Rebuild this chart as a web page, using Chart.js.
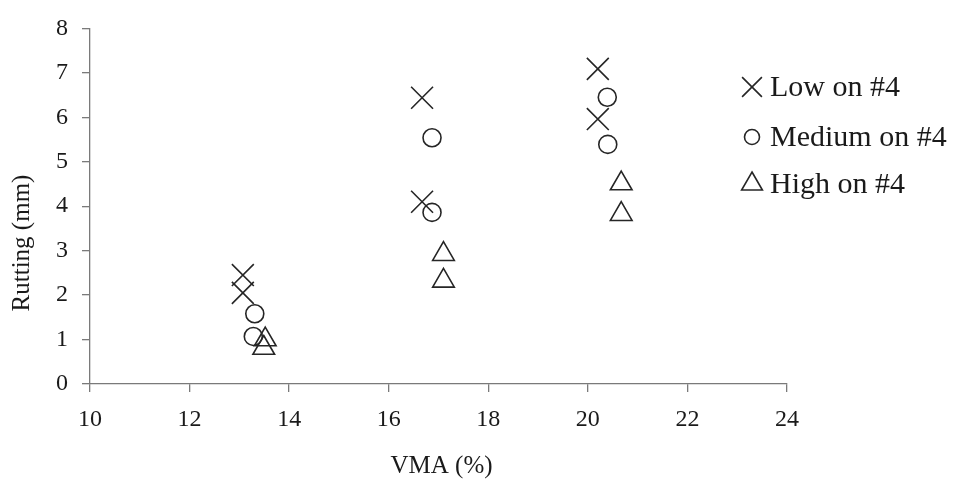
<!DOCTYPE html>
<html>
<head>
<meta charset="utf-8">
<script src="https://cdn.jsdelivr.net/npm/chart.js@4"></script>
<style>
  html, body { margin: 0; padding: 0; background: #ffffff; }
  #wrap { width: 954px; height: 483px; position: relative; }
</style>
</head>
<body>
<div id="wrap"><canvas id="c" width="954" height="483"></canvas></div>
<script>
// ---- data ----
const seriesNames = ["Low on #4", "Medium on #4", "High on #4"];
const lowX  = [13.07, 13.07, 16.67, 16.67, 20.20, 20.20];
const lowY  = [2.45, 2.05, 6.44, 4.10, 7.09, 5.96];
const medX  = [13.31, 13.28, 16.87, 16.87, 20.39, 20.40];
const medY  = [1.58, 1.07, 5.54, 3.86, 6.45, 5.39];
const highX = [13.52, 13.49, 17.10, 17.10, 20.67, 20.67];
const highY = [1.00, 0.81, 2.92, 2.32, 4.51, 3.82];
const xTicks = [10, 12, 14, 16, 18, 20, 22, 24];
const yTicks = [0, 1, 2, 3, 4, 5, 6, 7, 8];
const xTitle = "VMA (%)";
const yTitle = "Rutting (mm)";

function pts(xs, ys) { return xs.map((x, i) => ({ x: x, y: ys[i] })); }

const FONT = "'Liberation Serif', 'Times New Roman', serif";
const INK = "#262626";
const AXIS = "#7a7a7a";

const legendRows = [87, 137, 184];
const legendRadius = [14, 7.5, 12];

const overlayPlugin = {
  id: 'overlay',
  afterDraw(chart) {
    const ctx = chart.ctx;
    const area = chart.chartArea;
    ctx.save();
    // legend
    chart.data.datasets.forEach((ds, i) => {
      ctx.strokeStyle = INK;
      ctx.fillStyle = 'rgba(0,0,0,0)';
      ctx.lineWidth = 1.6;
      Chart.helpers.drawPoint(ctx, { pointStyle: ds.pointStyle, radius: legendRadius[i], borderWidth: 1.6, rotation: 0 }, 752, legendRows[i]);
      ctx.fillStyle = '#1a1a1a';
      ctx.font = "30px " + FONT;
      ctx.textAlign = 'left';
      ctx.textBaseline = 'middle';
      ctx.fillText(ds.label, 770, legendRows[i] + 1);
    });
    // axis titles
    ctx.fillStyle = '#1a1a1a';
    ctx.font = "25px " + FONT;
    ctx.textAlign = 'center';
    ctx.textBaseline = 'middle';
    ctx.fillText(xTitle, (area.left + area.right) / 2 + 3, 466);
    ctx.translate(22, 243);
    ctx.rotate(-Math.PI / 2);
    ctx.fillText(yTitle, 0, 0);
    ctx.restore();
  }
};

new Chart(document.getElementById('c'), {
  type: 'scatter',
  data: {
    datasets: [
      { label: seriesNames[0], data: pts(lowX, lowY), pointStyle: 'crossRot', pointRadius: 15.5, pointBorderWidth: 1.6, borderColor: INK, backgroundColor: 'rgba(0,0,0,0)' },
      { label: seriesNames[1], data: pts(medX, medY), pointStyle: 'circle', pointRadius: 9, pointBorderWidth: 1.6, borderColor: INK, backgroundColor: 'rgba(0,0,0,0)' },
      { label: seriesNames[2], data: pts(highX, highY), pointStyle: 'triangle', pointRadius: 12.5, pointBorderWidth: 1.6, borderColor: INK, backgroundColor: 'rgba(0,0,0,0)' }
    ]
  },
  options: {
    responsive: false,
    animation: false,
    events: [],
    layout: { padding: { left: 0, right: 167, top: 18, bottom: 0 } },
    plugins: { legend: { display: false }, tooltip: { enabled: false } },
    scales: {
      x: {
        type: 'linear',
        min: 10, max: 24,
        afterFit(scale) { scale.height = 99; },
        afterBuildTicks(scale) { scale.ticks = xTicks.map(v => ({ value: v })); },
        border: { display: true, color: AXIS, width: 1.3 },
        grid: { display: true, drawOnChartArea: false, drawTicks: true, tickLength: 8, color: AXIS, lineWidth: 1.3 },
        ticks: { color: '#1a1a1a', font: { family: FONT, size: 24 }, padding: 13, maxRotation: 0 }
      },
      y: {
        type: 'linear',
        min: 0, max: 8,
        afterFit(scale) { scale.width = 90; },
        afterBuildTicks(scale) { scale.ticks = yTicks.map(v => ({ value: v })); },
        border: { display: true, color: AXIS, width: 1.3 },
        grid: { display: true, drawOnChartArea: false, drawTicks: true, tickLength: 8, color: AXIS, lineWidth: 1.3 },
        ticks: { color: '#1a1a1a', font: { family: FONT, size: 24 }, padding: 14 }
      }
    }
  },
  plugins: [overlayPlugin]
});
</script>
</body>
</html>
